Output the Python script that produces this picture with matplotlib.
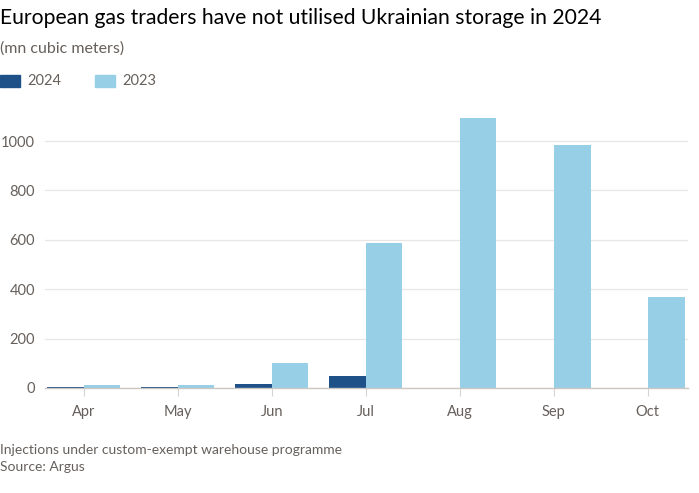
import numpy as np
import matplotlib
matplotlib.use('Agg')
import matplotlib.pyplot as plt
from matplotlib.patches import Rectangle

# Data (mn cubic meters)
months = ['Apr', 'May', 'Jun', 'Jul', 'Aug', 'Sep', 'Oct']
vals_2024 = [3, 5, 15, 49, 0, 0, 0]
vals_2023 = [14, 14, 103, 586, 1092, 983, 369]
yticks = [0, 200, 400, 600, 800, 1000]

c2024 = '#1f5189'
c2023 = '#96cfe6'
grey = '#66605c'

plt.rcParams['font.family'] = ['Lato', 'DejaVu Sans']

fig = plt.figure(figsize=(6.99, 4.93), dpi=100)
fig.patch.set_facecolor('white')
ax = fig.add_axes([0.064, 0.213, 0.92, 0.551])

x = np.arange(len(months))
w = 0.39
ax.bar(x - w / 2, vals_2024, width=w, color=c2024, zorder=3)
ax.bar(x + w / 2, vals_2023, width=w, color=c2023, zorder=3)

ax.set_xlim(-0.415, 6.425)
ax.set_ylim(0, 1100)
ax.set_yticks(yticks)
ax.set_yticklabels([str(v) for v in yticks])
ax.set_xticks(x)
ax.set_xticklabels(months)

ax.grid(axis='y', color='#e9e6e4', linewidth=0.9, zorder=0)
for s in ['top', 'right', 'left']:
    ax.spines[s].set_visible(False)
ax.spines['bottom'].set_color('#ccc7c3')
ax.spines['bottom'].set_linewidth(1.0)
ax.spines['bottom'].set_zorder(4)

ax.tick_params(axis='y', length=0, pad=7, labelsize=10.5, labelcolor=grey)
ax.tick_params(axis='x', length=6, width=0.8, color='#d9d4d0', pad=6,
               labelsize=10.5, labelcolor=grey)

# Title, subtitle, legend
fig.text(0.0, 1 - 18 / 493, 'European gas traders have not utilised Ukrainian storage in 2024',
         fontsize=15.2, color='#000000', va='center', ha='left')
fig.text(0.0, 1 - 49 / 493, '(mn cubic meters)', fontsize=11.5, color=grey,
         va='center', ha='left')

ly = 1 - 81 / 493
fig.patches.append(Rectangle((0.0, ly - 0.012), 20 / 699, 0.024,
                             transform=fig.transFigure, color=c2024))
fig.text(27 / 699, ly, '2024', fontsize=10.5, color=grey, va='center', ha='left')
fig.patches.append(Rectangle((95 / 699, ly - 0.012), 20 / 699, 0.024,
                             transform=fig.transFigure, color=c2023))
fig.text(122 / 699, ly, '2023', fontsize=10.5, color=grey, va='center', ha='left')

# Footer
fig.text(0.0, 1 - 450 / 493, 'Injections under custom-exempt warehouse programme',
         fontsize=10, color=grey, va='center', ha='left')
fig.text(0.0, 1 - 467 / 493, 'Source: Argus', fontsize=10, color=grey,
         va='center', ha='left')

fig.savefig('out.png', dpi=100, facecolor='white')
